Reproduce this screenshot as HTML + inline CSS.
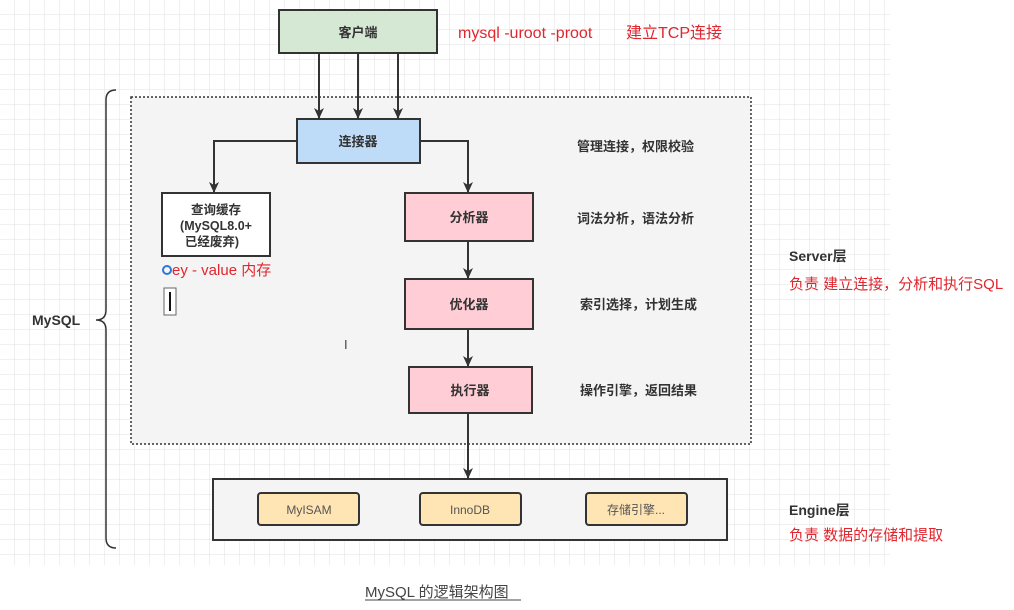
<!DOCTYPE html>
<html><head><meta charset="utf-8"><style>
html,body{margin:0;padding:0;background:#fff;width:1014px;height:610px;overflow:hidden}
svg{display:block}
text{font-family:"Liberation Sans","Noto Sans CJK SC",sans-serif}
</style></head><body>
<svg width="1014" height="610" xmlns="http://www.w3.org/2000/svg">
<defs>
<pattern id="g" width="15" height="15" patternUnits="userSpaceOnUse"><path d="M15 0V15H0" fill="none" stroke="#e0e0e0" stroke-width="1"/></pattern>
<marker id="a" markerWidth="12" markerHeight="12" refX="10" refY="5" orient="auto" markerUnits="userSpaceOnUse"><path d="M0 0L11 5L0 10L3 5Z" fill="#333"/></marker>
</defs>
<rect x="0" y="0" width="890" height="565" fill="url(#g)"/>
<rect x="131" y="97" width="620" height="347" fill="#f4f4f4" stroke="#333" stroke-width="1.5" stroke-dasharray="2,2"/>
<path d="M116 90 Q106 90 106 100 L106 310 Q106 320 96 320 Q106 320 106 330 L106 538 Q106 548 116 548" fill="none" stroke="#333" stroke-width="1.5"/>
<text x="32" y="325" font-size="14" font-weight="bold" fill="#333">MySQL</text>
<rect x="279" y="10" width="158" height="43" fill="#d5e8d4" stroke="#333" stroke-width="2"/>
<text x="358" y="37" font-size="13" font-weight="bold" fill="#333" text-anchor="middle">客户端</text>
<text x="458" y="38" font-size="16" fill="#e0262e">mysql -uroot -proot</text>
<text x="626" y="38" font-size="16" fill="#e0262e">建立TCP连接</text>
<g stroke="#333" stroke-width="2" fill="none" marker-end="url(#a)">
<line x1="319" y1="53" x2="319" y2="118"/>
<line x1="358" y1="53" x2="358" y2="118"/>
<line x1="398" y1="53" x2="398" y2="118"/>
<polyline points="297,141 214,141 214,192"/>
<polyline points="420,141 468,141 468,192"/>
<line x1="468" y1="241" x2="468" y2="278"/>
<line x1="468" y1="329" x2="468" y2="366"/>
<line x1="468" y1="413" x2="468" y2="478"/>
</g>
<rect x="297" y="119" width="123" height="44" fill="#bedcf7" stroke="#333" stroke-width="2"/>
<text x="358" y="146" font-size="13" font-weight="bold" fill="#333" text-anchor="middle">连接器</text>
<rect x="162" y="193" width="108" height="63" fill="#fff" stroke="#333" stroke-width="2"/>
<text x="216" y="214" font-size="12.5" font-weight="bold" fill="#333" text-anchor="middle">查询缓存</text>
<text x="216" y="230" font-size="12.5" font-weight="bold" fill="#333" text-anchor="middle">(MySQL8.0+</text>
<text x="212" y="246" font-size="12.5" font-weight="bold" fill="#333" text-anchor="middle">已经废弃)</text>
<circle cx="167" cy="270" r="4" fill="none" stroke="#2a7ad8" stroke-width="2"/>
<text x="172" y="275" font-size="15" fill="#e0262e">ey  - value  内存</text>
<rect x="164" y="288" width="12" height="27" fill="#fff" stroke="#666" stroke-width="1"/>
<line x1="170" y1="292" x2="170" y2="311" stroke="#111" stroke-width="2"/>
<text x="344" y="349" font-size="13" fill="#444">I</text>
<rect x="405" y="193" width="128" height="48" fill="#ffcdd5" stroke="#333" stroke-width="2"/>
<text x="469" y="222" font-size="13" font-weight="bold" fill="#333" text-anchor="middle">分析器</text>
<rect x="405" y="279" width="128" height="50" fill="#ffcdd5" stroke="#333" stroke-width="2"/>
<text x="469" y="309" font-size="13" font-weight="bold" fill="#333" text-anchor="middle">优化器</text>
<rect x="409" y="367" width="123" height="46" fill="#ffcdd5" stroke="#333" stroke-width="2"/>
<text x="470" y="395" font-size="13" font-weight="bold" fill="#333" text-anchor="middle">执行器</text>
<g font-size="13" font-weight="bold" fill="#333">
<text x="577" y="151">管理连接，权限校验</text>
<text x="577" y="223">词法分析，语法分析</text>
<text x="580" y="309">索引选择，计划生成</text>
<text x="580" y="395">操作引擎，返回结果</text>
</g>
<rect x="213" y="479" width="514" height="61" fill="#f4f4f4" stroke="#333" stroke-width="2"/>
<g fill="#ffe5b4" stroke="#333" stroke-width="2">
<rect x="258" y="493" width="101" height="32" rx="3"/>
<rect x="420" y="493" width="101" height="32" rx="3"/>
<rect x="586" y="493" width="101" height="32" rx="3"/>
</g>
<g font-size="12" fill="#555" text-anchor="middle">
<text x="309" y="514">MyISAM</text>
<text x="470" y="514">InnoDB</text>
<text x="636" y="514">存储引擎...</text>
</g>
<text x="789" y="261" font-size="14" font-weight="bold" fill="#333">Server层</text>
<text x="789" y="289" font-size="15" fill="#e0262e">负责 建立连接，分析和执行SQL</text>
<text x="789" y="515" font-size="14" font-weight="bold" fill="#333">Engine层</text>
<text x="789" y="540" font-size="15" fill="#e0262e">负责 数据的存储和提取</text>
<text x="365" y="597" font-size="15" fill="#444">MySQL 的逻辑架构图</text>
<line x1="365" y1="600" x2="521" y2="600" stroke="#444" stroke-width="1"/>
</svg>
</body></html>
